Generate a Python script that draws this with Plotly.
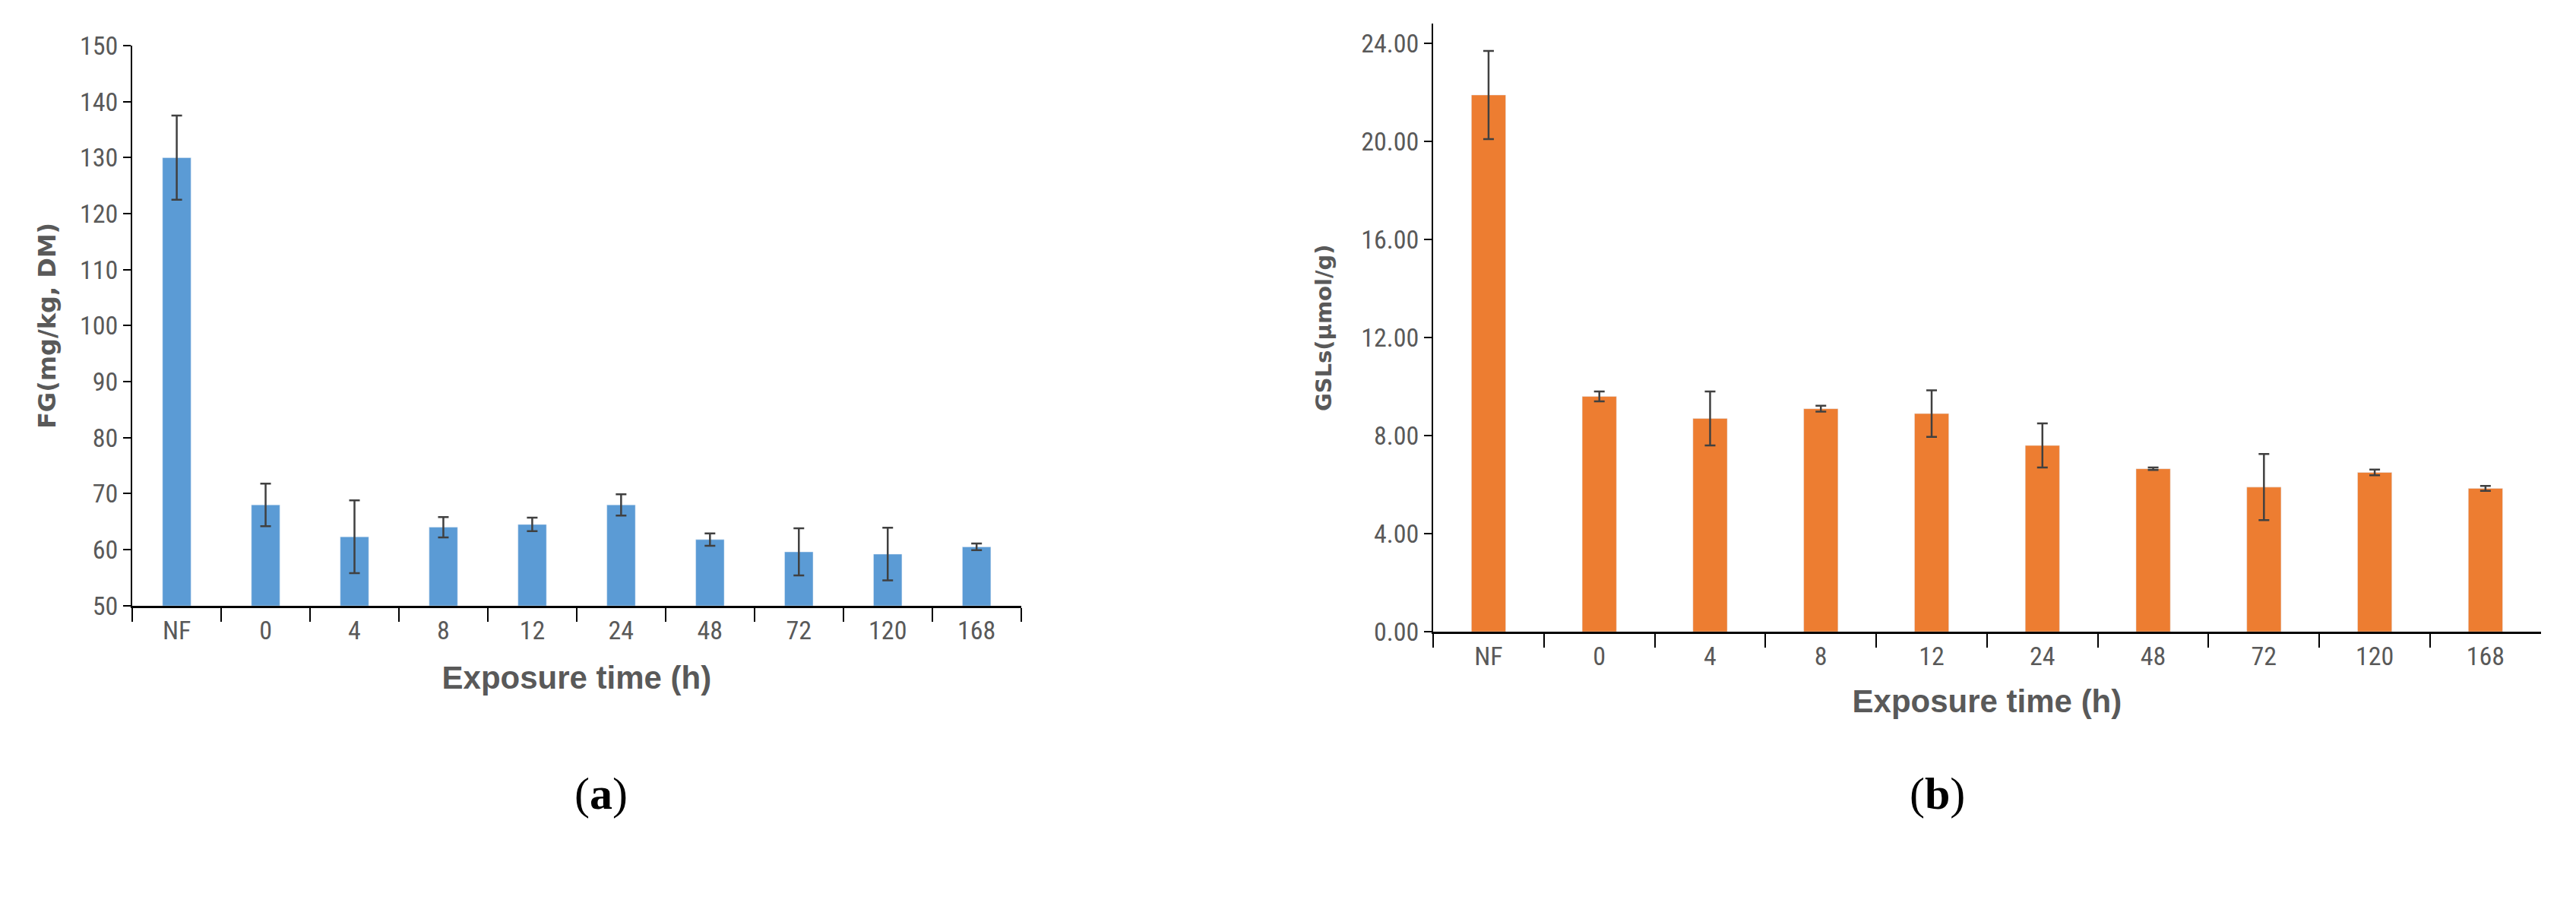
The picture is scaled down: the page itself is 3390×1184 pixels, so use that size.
import plotly.graph_objects as go

categories = ["NF", "0", "4", "8", "12", "24", "48", "72", "120", "168"]
fg_values = [130, 68, 62.3, 64, 64.5, 68, 61.8, 59.6, 59.2, 60.5]
fg_err = [7.5, 3.8, 6.5, 1.8, 1.2, 1.9, 1.1, 4.2, 4.7, 0.6]
gsl_values = [21.9, 9.6, 8.7, 9.1, 8.9, 7.6, 6.65, 5.9, 6.5, 5.85]
gsl_err = [1.8, 0.2, 1.1, 0.12, 0.95, 0.9, 0.05, 1.35, 0.12, 0.1]

tickfont = dict(family="Liberation Sans Narrow, Arial Narrow, Roboto Condensed, sans-serif", size=34, color="#595959")
titlefont = dict(family="Liberation Sans Narrow, Arial Narrow, sans-serif", size=42, color="#595959")

fig = go.Figure()
fig.add_trace(go.Bar(x=categories, y=fg_values, width=0.32, marker_color="#5B9BD5",
                     error_y=dict(type="data", array=fg_err, color="#404040", thickness=2.5, width=7),
                     xaxis="x", yaxis="y"))
fig.add_trace(go.Bar(x=categories, y=gsl_values, width=0.31, marker_color="#ED7D31",
                     error_y=dict(type="data", array=gsl_err, color="#404040", thickness=2.5, width=7),
                     xaxis="x2", yaxis="y2"))

xcommon = dict(type="category", showline=True, linecolor="#000000", linewidth=3, ticks="outside",
               tickson="boundaries", ticklen=18, tickwidth=2, tickcolor="#000000", tickfont=tickfont,
               showgrid=False, zeroline=False)
ycommon = dict(showline=True, linecolor="#000000", linewidth=2, ticks="outside", ticklen=10,
               tickwidth=2, tickcolor="#000000", tickfont=tickfont, showgrid=False, zeroline=False)

fig.update_layout(
    width=3390, height=1184, paper_bgcolor="white", plot_bgcolor="white",
    showlegend=False, margin=dict(l=0, r=0, t=0, b=0),
    xaxis=dict(domain=[0.049, 0.394], anchor="y",
               title=dict(text="<b>Exposure time (h)</b>", font=titlefont, standoff=30), **xcommon),
    yaxis=dict(domain=[0.328, 0.972], anchor="x", range=[50, 150], dtick=10,
               title=dict(text="<b>FG(mg/kg, DM)</b>", font=dict(family="Verdana, DejaVu Sans, sans-serif", size=32, color="#595959"), standoff=22),
               **ycommon),
    xaxis2=dict(domain=[0.554, 0.984], anchor="y2",
                title=dict(text="<b>Exposure time (h)</b>", font=titlefont, standoff=26), **xcommon),
    yaxis2=dict(domain=[0.298, 0.997], anchor="x2", range=[0, 24.8], tickvals=[0, 4, 8, 12, 16, 20, 24],
                tickformat=".2f",
                title=dict(text="<b>GSLs(μmol/g)</b>", font=dict(family="Verdana, DejaVu Sans, sans-serif", size=29, color="#595959"), standoff=30),
                **ycommon),
    annotations=[
        dict(text="(<b>a</b>)", x=0.220, y=0.081, xref="paper", yref="paper", showarrow=False,
             font=dict(family="Liberation Serif, Times New Roman, serif", size=60, color="#000000")),
        dict(text="(<b>b</b>)", x=0.761, y=0.081, xref="paper", yref="paper", showarrow=False,
             font=dict(family="Liberation Serif, Times New Roman, serif", size=60, color="#000000")),
    ],
)

fig.write_html("out.html")
